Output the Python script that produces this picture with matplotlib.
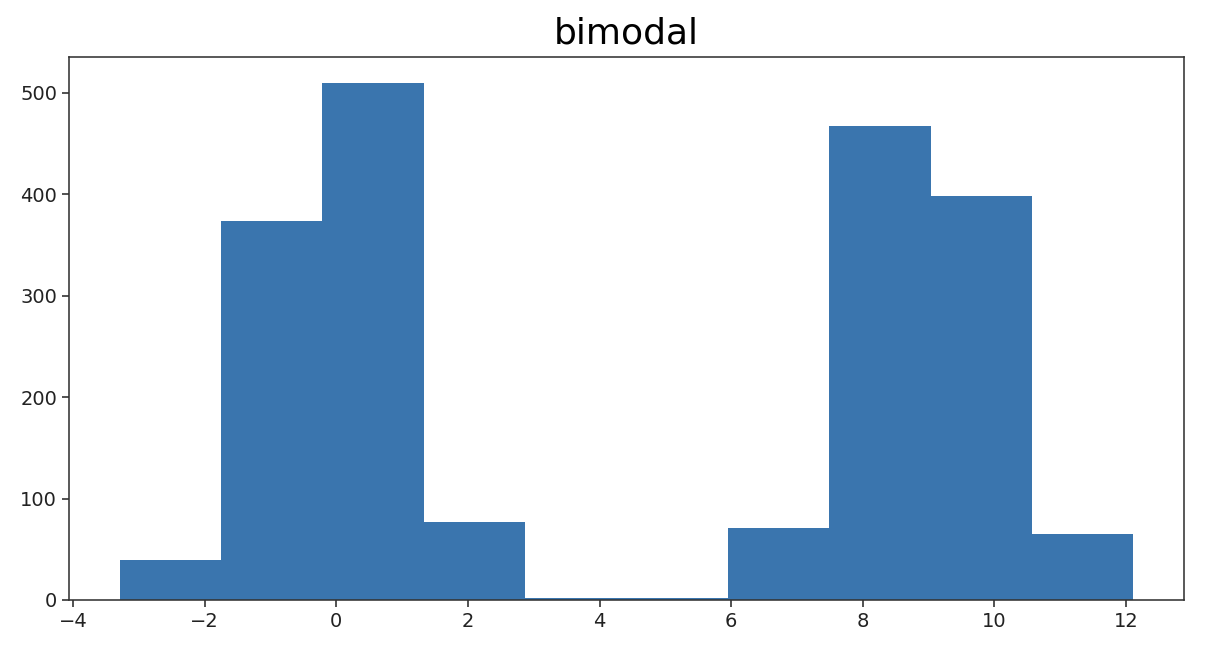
import numpy as np
import matplotlib
matplotlib.use('Agg')
import matplotlib.pyplot as plt

# Hauteurs des barres (10 classes)
bin_edges = np.linspace(-3.29, 12.11, 11)
counts = [39, 374, 510, 77, 2, 2, 71, 467, 398, 65]

fig = plt.figure(figsize=(12.26, 6.64), dpi=100)
ax = fig.add_axes([0.0563, 0.0964, 0.9094, 0.8178])

ax.hist(bin_edges[:-1], bins=bin_edges, weights=counts, color='#3a75ae')

ax.set_title('bimodal', fontsize=26, pad=10)
ax.tick_params(labelsize=14, length=5, width=1.1, colors='#222222')
for s in ax.spines.values():
    s.set_linewidth(1.15)
    s.set_color('#333333')

fig.savefig('out.png', dpi=100)
